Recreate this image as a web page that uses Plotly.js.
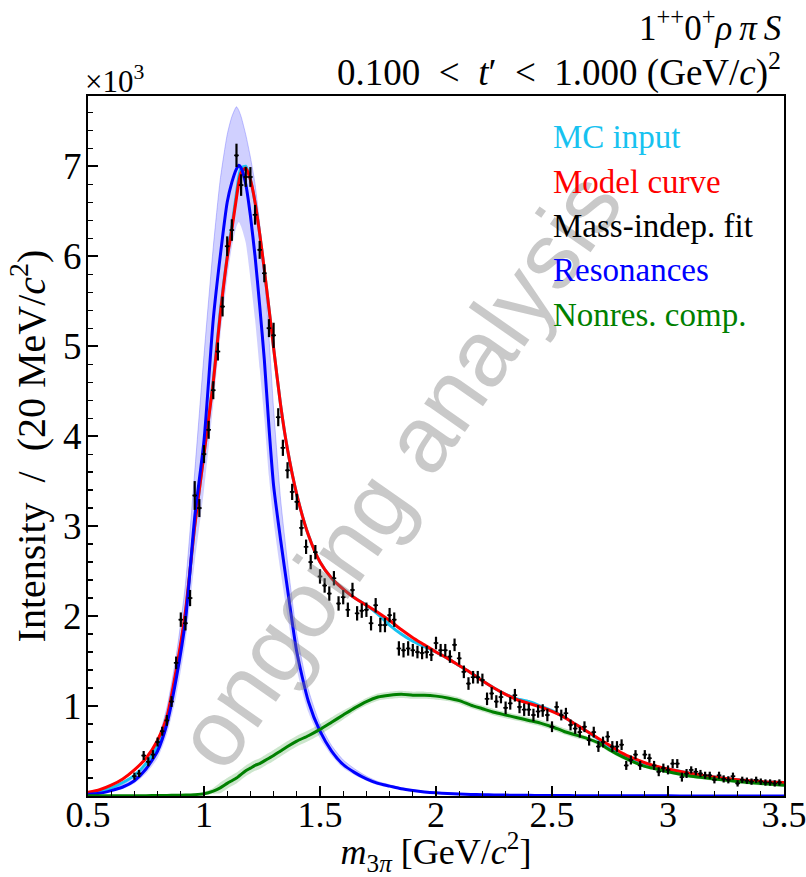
<!DOCTYPE html>
<html>
<head>
<meta charset="utf-8">
<script src="https://cdn.plot.ly/plotly-3.0.1.min.js"></script>
<style>body{margin:0;background:#fff}#plot{width:806px;height:877px}</style>
</head>
<body>
<div id="plot"></div>
<script>
// ---- Mass-independent fit points (bin centres, GeV/c^2) ----
const massBins = [
0.70,0.72,0.74,0.76,0.78,0.80,0.82,0.84,0.86,0.88,
0.90,0.92,0.94,0.96,0.98,1.00,1.02,1.04,1.06,1.08,
1.10,1.12,1.14,1.16,1.18,1.20,1.22,1.24,1.26,1.28,
1.30,1.32,1.34,1.36,1.38,1.40,1.42,1.44,1.46,1.48,
1.50,1.52,1.54,1.56,1.58,1.60,1.62,1.64,1.66,1.68,
1.70,1.72,1.74,1.76,1.78,1.80,1.82,1.84,1.86,1.88,
1.90,1.92,1.94,1.96,1.98,2.00,2.02,2.04,2.06,2.08,
2.10,2.12,2.14,2.16,2.18,2.20,2.22,2.24,2.26,2.28,
2.30,2.32,2.34,2.36,2.38,2.40,2.42,2.44,2.46,2.48,
2.50,2.52,2.54,2.56,2.58,2.60,2.62,2.64,2.66,2.68,
2.70,2.72,2.74,2.76,2.78,2.80,2.82,2.84,2.86,2.88,
2.90,2.92,2.94,2.96,2.98,3.00,3.02,3.04,3.06,3.08,
3.10,3.12,3.14,3.16,3.18,3.20,3.22,3.24,3.26,3.28,
3.30,3.32,3.34,3.36,3.38,3.40,3.42,3.44,3.46,3.48];
const fitIntensity = [
0.22,0.25,0.45,0.38,0.46,0.60,0.72,0.84,1.05,1.48,
1.96,1.92,2.20,3.34,3.20,3.80,4.07,4.51,4.94,5.44,
6.11,6.29,7.12,6.79,6.88,6.88,6.46,6.07,5.81,5.20,
5.12,4.21,3.87,3.62,3.38,3.27,2.98,2.77,2.60,2.71,
2.44,2.34,2.25,2.42,2.14,2.21,2.07,2.29,2.03,2.06,
2.07,1.92,2.12,1.90,1.90,2.01,1.96,1.64,1.62,1.64,
1.62,1.60,1.59,1.60,1.57,1.70,1.62,1.62,1.55,1.68,
1.53,1.38,1.25,1.32,1.32,1.29,1.08,1.14,1.05,1.10,
0.98,1.03,1.12,0.99,0.96,0.96,0.90,0.94,0.95,0.90,
0.77,0.99,0.90,0.92,0.79,0.75,0.71,0.77,0.62,0.71,
0.55,0.60,0.66,0.55,0.55,0.57,0.34,0.40,0.46,0.34,
0.46,0.42,0.34,0.27,0.31,0.29,0.36,0.36,0.21,0.25,
0.29,0.27,0.25,0.23,0.23,0.18,0.23,0.19,0.18,0.22,
0.14,0.18,0.17,0.16,0.18,0.16,0.15,0.15,0.14,0.15];
const fitError = [
0.04,0.04,0.05,0.05,0.05,0.05,0.05,0.06,0.06,0.07,
0.08,0.08,0.09,0.16,0.10,0.10,0.10,0.10,0.10,0.11,
0.11,0.12,0.13,0.12,0.11,0.11,0.11,0.10,0.10,0.10,
0.14,0.10,0.09,0.09,0.09,0.09,0.09,0.08,0.08,0.08,
0.08,0.08,0.08,0.08,0.08,0.08,0.08,0.08,0.08,0.08,
0.08,0.08,0.08,0.08,0.08,0.08,0.08,0.08,0.08,0.08,
0.07,0.07,0.07,0.07,0.07,0.07,0.07,0.07,0.07,0.07,
0.07,0.07,0.07,0.07,0.07,0.07,0.07,0.07,0.07,0.07,
0.07,0.07,0.07,0.07,0.07,0.07,0.07,0.07,0.07,0.07,
0.06,0.06,0.06,0.06,0.06,0.06,0.06,0.06,0.06,0.06,
0.06,0.06,0.06,0.06,0.06,0.06,0.05,0.05,0.05,0.05,
0.05,0.05,0.05,0.05,0.05,0.05,0.05,0.05,0.05,0.05,
0.04,0.04,0.04,0.04,0.04,0.04,0.04,0.04,0.04,0.04,
0.035,0.035,0.035,0.035,0.035,0.035,0.035,0.035,0.035,0.035];

// ---- Curves (mass grid, GeV/c^2) ----
const curveMass = [
0.50,0.55,0.60,0.65,0.70,0.75,0.80,0.84,0.88,0.92,
0.96,1.00,1.04,1.07,1.10,1.12,1.14,1.15,1.16,1.18,
1.20,1.22,1.24,1.26,1.28,1.30,1.33,1.36,1.40,1.45,
1.50,1.55,1.60,1.65,1.70,1.75,1.80,1.85,1.90,1.95,
2.00,2.05,2.10,2.15,2.20,2.25,2.30,2.35,2.40,2.45,
2.50,2.55,2.60,2.65,2.70,2.75,2.80,2.85,2.90,2.95,
3.00,3.10,3.20,3.30,3.40,3.50];
const modelCurve = [
0.04,0.07,0.12,0.19,0.29,0.42,0.62,0.88,1.40,2.05,
3.00,3.80,4.60,5.35,5.98,6.30,6.65,6.82,6.93,6.98,
6.85,6.60,6.25,5.85,5.42,4.98,4.35,3.85,3.35,2.90,
2.60,2.42,2.30,2.20,2.12,2.04,1.95,1.85,1.76,1.68,
1.60,1.53,1.45,1.37,1.28,1.20,1.13,1.07,1.03,0.99,
0.94,0.88,0.80,0.72,0.64,0.56,0.48,0.42,0.37,0.33,
0.30,0.25,0.21,0.18,0.16,0.15];
const mcInput = [
0.03,0.05,0.09,0.15,0.23,0.36,0.56,0.84,1.36,2.02,
3.00,3.80,4.62,5.38,6.00,6.33,6.70,6.88,6.98,7.00,
6.85,6.60,6.25,5.85,5.42,4.98,4.35,3.85,3.35,2.90,
2.60,2.42,2.30,2.20,2.12,2.02,1.90,1.80,1.72,1.66,
1.60,1.53,1.45,1.37,1.28,1.20,1.13,1.08,1.05,1.00,
0.95,0.88,0.80,0.72,0.63,0.54,0.46,0.40,0.36,0.32,
0.30,0.25,0.21,0.18,0.16,0.15];
const resonances = [
0.02,0.03,0.06,0.10,0.17,0.30,0.50,0.80,1.30,1.95,
3.10,3.95,5.30,6.00,6.60,6.82,6.97,7.01,6.98,6.80,
6.45,6.00,5.45,4.85,4.10,3.45,2.85,2.30,1.60,1.05,
0.72,0.50,0.35,0.26,0.19,0.14,0.11,0.08,0.06,0.045,
0.035,0.028,0.022,0.018,0.015,0.012,0.010,0.008,0.007,0.006,
0.005,0.0045,0.004,0.0035,0.003,0.0027,0.0024,0.0021,0.0019,0.0017,
0.0015,0.0012,0.001,0.0008,0.0007,0.0006];
const resonancesHi = [
0.025,0.04,0.075,0.13,0.22,0.38,0.62,0.98,1.55,2.35,
3.60,4.90,6.10,6.85,7.35,7.55,7.66,7.62,7.55,7.35,
7.10,6.80,6.35,5.80,5.10,4.30,3.30,2.60,1.80,1.18,
0.80,0.56,0.40,0.30,0.22,0.16,0.125,0.09,0.07,0.05,
0.04,0.032,0.025,0.02,0.017,0.014,0.011,0.009,0.008,0.007,
0.006,0.005,0.0045,0.004,0.0035,0.003,0.0027,0.0024,0.0021,0.0019,
0.0017,0.0014,0.0012,0.001,0.0008,0.0007];
const resonancesLo = [
0.015,0.025,0.05,0.08,0.14,0.25,0.42,0.68,1.10,1.70,
2.60,3.40,4.35,5.10,5.75,6.10,6.33,6.38,6.33,6.15,
5.75,5.30,4.75,4.20,3.55,3.05,2.50,2.00,1.40,0.93,
0.64,0.45,0.31,0.23,0.17,0.12,0.095,0.07,0.05,0.04,
0.03,0.024,0.019,0.016,0.013,0.010,0.009,0.007,0.006,0.005,
0.004,0.0038,0.0034,0.003,0.0026,0.0023,0.002,0.0018,0.0016,0.0014,
0.0013,0.001,0.0008,0.0006,0.0005,0.0004];
const nonres = [
0.003,0.003,0.003,0.003,0.003,0.004,0.005,0.006,0.008,0.010,
0.015,0.025,0.055,0.09,0.14,0.17,0.20,0.22,0.24,0.28,
0.31,0.34,0.36,0.39,0.42,0.45,0.50,0.55,0.61,0.67,
0.74,0.82,0.90,0.98,1.05,1.10,1.12,1.13,1.12,1.12,
1.11,1.09,1.06,1.01,0.97,0.93,0.90,0.87,0.84,0.81,
0.77,0.72,0.68,0.64,0.59,0.51,0.44,0.38,0.33,0.30,
0.27,0.22,0.19,0.16,0.14,0.12];
const nonresHi = [
0.006,0.006,0.006,0.006,0.006,0.007,0.008,0.010,0.012,0.016,
0.027,0.045,0.09,0.15,0.20,0.23,0.26,0.28,0.30,0.34,
0.37,0.40,0.42,0.45,0.48,0.51,0.56,0.61,0.67,0.73,
0.80,0.875,0.95,1.02,1.09,1.14,1.16,1.17,1.16,1.16,
1.15,1.125,1.095,1.045,1.005,0.965,0.935,0.905,0.875,0.845,
0.805,0.755,0.715,0.665,0.615,0.535,0.465,0.40,0.35,0.32,
0.29,0.24,0.21,0.18,0.16,0.14];
const nonresLo = [
0,0,0,0,0,0.001,0.002,0.002,0.004,0.004,
0.005,0.010,0.025,0.03,0.08,0.11,0.14,0.16,0.18,0.22,
0.25,0.28,0.30,0.33,0.36,0.39,0.44,0.49,0.55,0.61,
0.68,0.765,0.85,0.94,1.01,1.06,1.08,1.09,1.08,1.08,
1.07,1.055,1.025,0.975,0.935,0.895,0.865,0.835,0.805,0.775,
0.735,0.685,0.645,0.615,0.565,0.485,0.415,0.36,0.31,0.28,
0.25,0.20,0.17,0.14,0.12,0.10];

const legendLabels = ["MC input","Model curve","Mass-indep. fit","Resonances","Nonres. comp."];
const legendColors = ["#17c2f0","#ff0000","#000000","#0000ff","#008000"];
const yTicks = [1,2,3,4,5,6,7];
const xTicks = [0.5,1,1.5,2,2.5,3,3.5];

const SERIF = "Liberation Serif, Times New Roman, serif";

const traces = [
  {x: curveMass, y: resonancesLo, mode:'lines', line:{width:0, shape:'spline', smoothing:0.6}, hoverinfo:'skip', showlegend:false},
  {x: curveMass, y: resonancesHi, mode:'lines', line:{width:1, color:'rgba(90,90,255,0.35)', shape:'spline', smoothing:0.6}, fill:'tonexty', fillcolor:'rgba(40,40,255,0.22)', hoverinfo:'skip', showlegend:false},
  {x: curveMass, y: nonresLo, mode:'lines', line:{width:0, shape:'spline', smoothing:0.6}, hoverinfo:'skip', showlegend:false},
  {x: curveMass, y: nonresHi, mode:'lines', line:{width:0, shape:'spline', smoothing:0.6}, fill:'tonexty', fillcolor:'rgba(0,128,0,0.2)', hoverinfo:'skip', showlegend:false},
  {x: curveMass, y: mcInput, mode:'lines', name: legendLabels[0], line:{color:legendColors[0], width:3, shape:'spline', smoothing:0.6}},
  {x: curveMass, y: modelCurve, mode:'lines', name: legendLabels[1], line:{color:legendColors[1], width:3, shape:'spline', smoothing:0.6}},
  {x: curveMass, y: resonances, mode:'lines', name: legendLabels[3], line:{color:legendColors[3], width:3, shape:'spline', smoothing:0.6}},
  {x: curveMass, y: nonres, mode:'lines', name: legendLabels[4], line:{color:legendColors[4], width:3, shape:'spline', smoothing:0.6}},
  {x: massBins, y: fitIntensity, mode:'markers', name: legendLabels[2],
   marker:{color:'#000', size:3},
   error_y:{type:'data', array: fitError, visible:true, color:'#000', thickness:2.2, width:0},
   error_x:{type:'constant', value:0.01, visible:true, color:'#000', thickness:1.6, width:0}}
];

function py(p){ return (796 - p) / 700; }
function px(p){ return (p - 88) / 696; }

const annotations = [
  {text:'1<sup>++</sup>0<sup>+</sup><i>ρ</i>&#8201;<i>π</i>&#8201;<i>S</i>', xref:'paper', yref:'paper', x:px(783), y:py(26), xanchor:'right', yanchor:'middle', showarrow:false, font:{family:SERIF, size:35, color:'#000'}},
  {text:'0.100 &nbsp;&lt;&nbsp; <i>t</i>′ &nbsp;&lt;&nbsp; 1.000 (GeV/<i>c</i>)<sup>2</sup>', xref:'paper', yref:'paper', x:px(783), y:py(70), xanchor:'right', yanchor:'middle', showarrow:false, font:{family:SERIF, size:37, color:'#000'}},
  {text:'×10<sup>3</sup>', xref:'paper', yref:'paper', x:px(83), y:py(79), xanchor:'left', yanchor:'middle', showarrow:false, font:{family:SERIF, size:31, color:'#000'}},
  {text:'ongoing analysis', xref:'paper', yref:'paper', x:px(398), y:py(470), xanchor:'center', yanchor:'middle', textangle:-55, showarrow:false, font:{family:'Liberation Sans, Arial, sans-serif', size:94, color:'rgba(120,120,120,0.4)'}}
];
const legendY = [137, 182, 226, 270, 315];
legendLabels.forEach((t,i)=>{
  annotations.push({text:t, xref:'paper', yref:'paper', x:px(551), y:py(legendY[i]), xanchor:'left', yanchor:'middle', showarrow:false, font:{family:SERIF, size:33, color:legendColors[i]}});
});

const layout = {
  width:806, height:877,
  margin:{l:88, r:22, t:96, b:81},
  paper_bgcolor:'#fff', plot_bgcolor:'#fff',
  showlegend:false,
  font:{family:SERIF, color:'#000'},
  xaxis:{range:[0.5,3.5], tickmode:'array', tickvals:xTicks, ticktext:xTicks.map(String),
    ticks:'inside', ticklen:10, tickwidth:1.5, tickcolor:'#000', ticklabelstandoff:-14, ticklabeloverflow:'allow',
    minor:{tickmode:'linear', tick0:0.5, dtick:0.1, ticks:'inside', ticklen:5, tickwidth:1.2, tickcolor:'#000'},
    showline:true, linecolor:'#000', linewidth:2, mirror:true, showgrid:false, zeroline:false,
    tickfont:{family:SERIF, size:36, color:'#000'},
    title:{text:'<i>m</i><sub>3<i>π</i></sub> [GeV/<i>c</i><sup>2</sup>]', font:{family:SERIF, size:36, color:'#000'}, standoff:24}},
  yaxis:{range:[0,7.78], tickmode:'array', tickvals:yTicks, ticktext:yTicks.map(String),
    ticks:'inside', ticklen:10, tickwidth:1.5, tickcolor:'#000', ticklabelstandoff:-3,
    minor:{tickmode:'linear', tick0:0, dtick:0.2, ticks:'inside', ticklen:5, tickwidth:1.2, tickcolor:'#000'},
    showline:true, linecolor:'#000', linewidth:2, mirror:true, showgrid:false, zeroline:false,
    tickfont:{family:SERIF, size:37, color:'#000'},
    title:{text:'Intensity&nbsp; / &nbsp;(20 MeV/<i>c</i><sup>2</sup>)', font:{family:SERIF, size:40, color:'#000'}, standoff:5}},
  annotations: annotations
};

Plotly.newPlot('plot', traces, layout, {displayModeBar:false, staticPlot:true});
</script>
</body>
</html>
